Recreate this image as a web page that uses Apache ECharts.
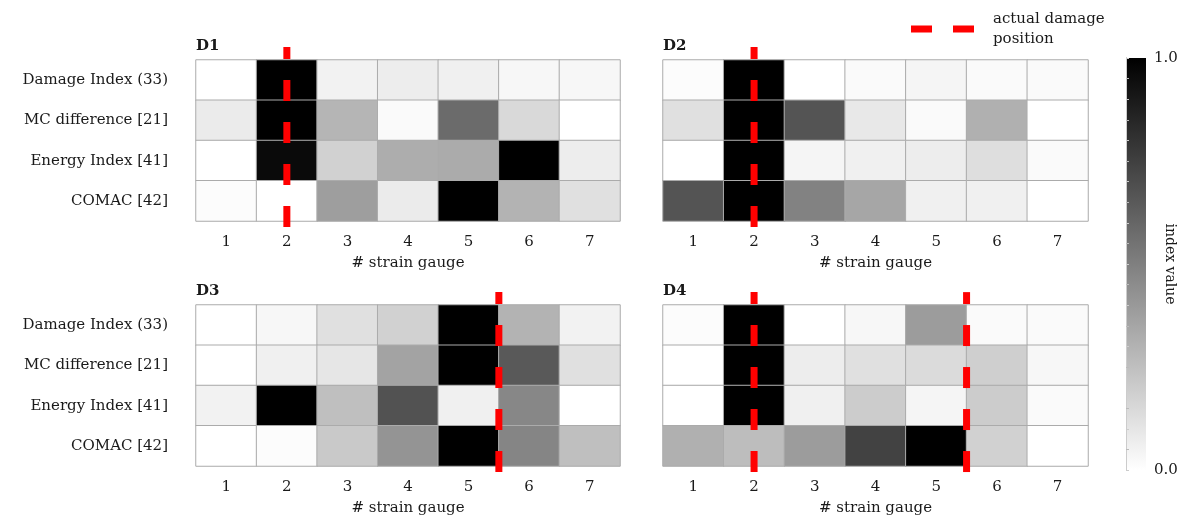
<!DOCTYPE html>
<html>
<head>
<meta charset="utf-8">
<script src="https://cdn.jsdelivr.net/npm/echarts@6/dist/echarts.min.js"></script>
<style>
  html, body { margin: 0; padding: 0; background: #fff; }
  #main { width: 1196px; height: 518px; }
</style>
</head>
<body>
<div id="main"></div>
<script>
var gauges = ['1', '2', '3', '4', '5', '6', '7'];
var methods = ['Damage Index (33)', 'MC difference [21]', 'Energy Index [41]', 'COMAC [42]'];
var panels = ['D1', 'D2', 'D3', 'D4'];

// rows follow methods, columns follow gauges
var d1Values = [
  [0.00, 1.00, 0.05, 0.07, 0.06, 0.03, 0.03],
  [0.08, 1.00, 0.29, 0.02, 0.58, 0.15, 0.00],
  [0.00, 0.96, 0.18, 0.32, 0.33, 1.00, 0.07],
  [0.01, 0.00, 0.38, 0.08, 1.00, 0.30, 0.12]
];
var d2Values = [
  [0.01, 1.00, 0.00, 0.02, 0.04, 0.02, 0.02],
  [0.12, 1.00, 0.67, 0.09, 0.02, 0.31, 0.00],
  [0.00, 1.00, 0.04, 0.06, 0.07, 0.13, 0.02],
  [0.67, 1.00, 0.49, 0.35, 0.06, 0.06, 0.00]
];
var d3Values = [
  [0.00, 0.03, 0.12, 0.18, 1.00, 0.30, 0.05],
  [0.00, 0.06, 0.10, 0.36, 1.00, 0.65, 0.12],
  [0.05, 1.00, 0.25, 0.68, 0.06, 0.47, 0.00],
  [0.00, 0.01, 0.21, 0.42, 1.00, 0.48, 0.25]
];
var d4Values = [
  [0.01, 1.00, 0.00, 0.03, 0.39, 0.02, 0.02],
  [0.00, 1.00, 0.07, 0.12, 0.14, 0.19, 0.03],
  [0.00, 1.00, 0.06, 0.20, 0.04, 0.20, 0.02],
  [0.31, 0.26, 0.39, 0.74, 1.00, 0.18, 0.00]
];
var damagePos = [[2], [2], [5.5], [2, 5.5]];

var allValues = [d1Values, d2Values, d3Values, d4Values];
var serif = 'DejaVu Serif';
var txt = '#1a1a1a';

var chart = echarts.init(document.getElementById('main'));

var grids = [
  { left: 196, top: 60, width: 424, height: 161 },
  { left: 663, top: 60, width: 425, height: 161 },
  { left: 196, top: 305, width: 424, height: 161 },
  { left: 663, top: 305, width: 425, height: 161 }
];

var titles = [], xAxes = [], yAxes = [], series = [];

for (var p = 0; p < 4; p++) {
  var g = grids[p];
  titles.push({
    text: panels[p], left: g.left - 5, top: g.top - 26,
    textStyle: { fontFamily: serif, fontWeight: 'bold', fontSize: 15, color: txt }
  });

  // category axes for the heatmap
  xAxes.push({
    gridIndex: p, type: 'category', data: gauges,
    axisLine: { show: false }, axisTick: { show: false }, splitArea: { show: false },
    axisLabel: { margin: 14, fontFamily: serif, fontSize: 15, color: txt },
    name: '# strain gauge', nameLocation: 'middle', nameGap: 35,
    nameTextStyle: { fontFamily: serif, fontSize: 15, color: txt }
  });
  yAxes.push({
    gridIndex: p, type: 'category', data: methods, inverse: true,
    axisLine: { show: false }, axisTick: { show: false },
    axisLabel: { show: p % 2 === 0, margin: 28, padding: [6, 0, 0, 0], fontFamily: serif, fontSize: 15, color: txt }
  });

  var data = [];
  var vals = allValues[p];
  for (var r = 0; r < methods.length; r++) {
    for (var c = 0; c < gauges.length; c++) {
      data.push([c, r, vals[r][c]]);
    }
  }
  series.push({
    type: 'heatmap', xAxisIndex: p, yAxisIndex: p, data: data,
    itemStyle: { borderColor: '#ababab', borderWidth: 1 },
    emphasis: { disabled: true }
  });
}

// hidden value axes, used to place the damage position lines
for (var p = 0; p < 4; p++) {
  xAxes.push({ gridIndex: p, type: 'value', min: 0.5, max: 7.5, show: false });
  yAxes.push({ gridIndex: p, type: 'value', min: 0, max: 4, show: false });
  for (var k = 0; k < damagePos[p].length; k++) {
    var xp = damagePos[p][k];
    series.push({
      name: 'actual damage position', type: 'line',
      xAxisIndex: 4 + p, yAxisIndex: 4 + p,
      data: [[xp, -0.15], [xp, 4.32]],
      symbol: 'none', clip: false, z: 5, silent: true,
      itemStyle: { color: '#ff0000' },
      lineStyle: { color: '#ff0000', width: 7, type: [21, 21], cap: 'butt' }
    });
  }
}

// colour bar
grids.push({
  left: 1126, top: 58, width: 20, height: 412, show: true, borderWidth: 0,
  backgroundColor: new echarts.graphic.LinearGradient(0, 0, 0, 1, [
    { offset: 0, color: '#000000' },
    { offset: 1, color: '#ffffff' }
  ])
});
xAxes.push({ gridIndex: 4, type: 'value', show: false, min: 0, max: 1 });
yAxes.push({
  gridIndex: 4, type: 'value', min: 0, max: 1, interval: 0.05, position: 'right',
  axisLine: { show: true, lineStyle: { color: '#888888', width: 1 } },
  axisTick: { show: true, length: 3, lineStyle: { color: '#bbbbbb' } },
  splitLine: { show: false },
  axisLabel: {
    margin: 8, fontFamily: serif, fontSize: 15, color: txt,
    formatter: function (v) {
      if (Math.abs(v) < 1e-6) return '0.0';
      if (Math.abs(v - 1) < 1e-6) return '1.0';
      return '';
    }
  },
  name: 'index value', nameLocation: 'middle', nameRotate: -90, nameGap: 17,
  nameMoveOverlap: false,
  nameTextStyle: { fontFamily: serif, fontSize: 14, color: txt }
});
yAxes.push({
  gridIndex: 4, type: 'value', min: 0, max: 1, interval: 0.1, position: 'left',
  axisLine: { show: true, lineStyle: { color: '#cccccc', width: 1 } },
  axisTick: { show: true, inside: true, length: 3, lineStyle: { color: '#cccccc' } },
  axisLabel: { show: false }, splitLine: { show: false }
});

chart.setOption({
  backgroundColor: '#ffffff',
  animation: false,
  title: titles,
  grid: grids,
  xAxis: xAxes,
  yAxis: yAxes,
  visualMap: {
    show: false, type: 'continuous', min: 0, max: 1,
    seriesIndex: [0, 1, 2, 3],
    inRange: { color: ['#ffffff', '#000000'] }
  },
  legend: {
    data: ['actual damage position'],
    left: 906, top: 4,
    icon: 'path://M0,0 H21 V7 H0 Z M42,0 H63 V7 H42 Z',
    itemWidth: 63, itemHeight: 7, itemGap: 10,
    itemStyle: { color: '#ff0000' },
    formatter: function () { return 'actual damage\nposition'; },
    textStyle: { fontFamily: serif, fontSize: 15, color: txt, lineHeight: 20, padding: [0, 0, 0, 14] }
  },
  series: series
});
</script>
</body>
</html>
